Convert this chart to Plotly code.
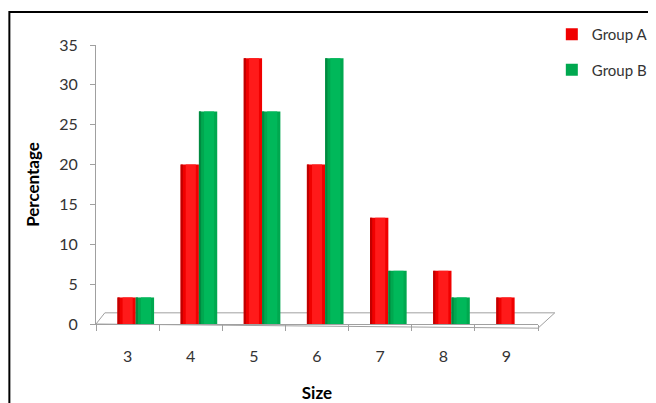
import plotly.graph_objects as go

sizes = [3, 4, 5, 6, 7, 8, 9]
group_a = [3.33, 20.0, 33.33, 20.0, 13.33, 6.67, 3.33]
group_b = [3.33, 26.67, 26.67, 33.33, 6.67, 3.33, 0.0]
y_ticks = [0, 5, 10, 15, 20, 25, 30, 35]

font_family = "Lato, 'Open Sans', sans-serif"
BAR_W = 0.29
OFF_A = -0.16
OFF_B = 0.13

fig = go.Figure()


def add_cylinder(vals, name, group, off, dark, mid, light, show):
    fig.add_trace(go.Bar(
        x=sizes, y=vals, name=name, legendgroup=group, showlegend=show,
        marker=dict(color=mid, line=dict(width=0)),
        width=BAR_W, offset=off, hoverinfo="skip",
    ))
    fig.add_trace(go.Bar(
        x=sizes, y=vals, legendgroup=group, showlegend=False,
        marker=dict(color=light, line=dict(width=0)),
        width=BAR_W * 0.55, offset=off + BAR_W * 0.28, hoverinfo="skip",
    ))
    fig.add_trace(go.Bar(
        x=sizes, y=vals, legendgroup=group, showlegend=False,
        marker=dict(color=dark, line=dict(width=0)),
        width=BAR_W * 0.12, offset=off, hoverinfo="skip",
    ))


add_cylinder(group_a, "Group A", "a", OFF_A, "#C00000", "#F00000", "#FF1A1A", True)
add_cylinder(group_b, "Group B", "b", OFF_B, "#008A40", "#00A84F", "#00B85A", True)

shapes = []
floor_col = "#A0A0A0"
shapes.append(dict(type="path", xref="paper", yref="paper",
                   path="M 0 0 L 0.02 0.04 L 1.038 0.04 L 1.0 -0.015 Z",
                   line=dict(color=floor_col, width=1), fillcolor="rgba(0,0,0,0)", layer="below"))
shapes.append(dict(type="rect", xref="paper", yref="paper",
                   x0=-0.196, x1=1.4, y0=-0.4, y1=1.118,
                   line=dict(color="black", width=2)))

fig.update_layout(
    width=656, height=403,
    margin=dict(l=88, r=126, t=37, b=87, autoexpand=False),
    paper_bgcolor="white", plot_bgcolor="white",
    font=dict(family=font_family, size=16, color="#333333"),
    showlegend=True,
    legend=dict(xref="container", yref="container", x=0.829, y=0.975,
                xanchor="left", yanchor="top",
                font=dict(size=15, color="#333333"), tracegroupgap=13,
                itemwidth=30,
                bgcolor="rgba(0,0,0,0)"),
    barmode="overlay",
    shapes=shapes,
    xaxis=dict(
        range=[2.5, 9.5], tickmode="array", tickvals=sizes,
        ticktext=[str(s) for s in sizes],
        showgrid=False, zeroline=False, automargin=False,
        showline=True, linecolor="#A0A0A0", linewidth=1,
        ticks="", ticklabelstandoff=18,
        title=dict(text="<b>Size</b>", font=dict(size=17, color="black"), standoff=22),
        fixedrange=True,
        minor=dict(tickmode="array", tickvals=[2.5 + i for i in range(8)],
                   ticks="outside", ticklen=6, tickcolor="#A0A0A0"),
    ),
    yaxis=dict(
        range=[0, 35], tickmode="array", tickvals=y_ticks,
        showgrid=False, zeroline=False, automargin=False,
        showline=True, linecolor="#A0A0A0", linewidth=1,
        ticks="outside", ticklen=5, tickcolor="#A0A0A0", ticklabelstandoff=9,
        title=dict(text="<b>Percentage</b>", font=dict(size=17, color="black"), standoff=15),
        fixedrange=True,
    ),
)

fig.write_html("out.html")
